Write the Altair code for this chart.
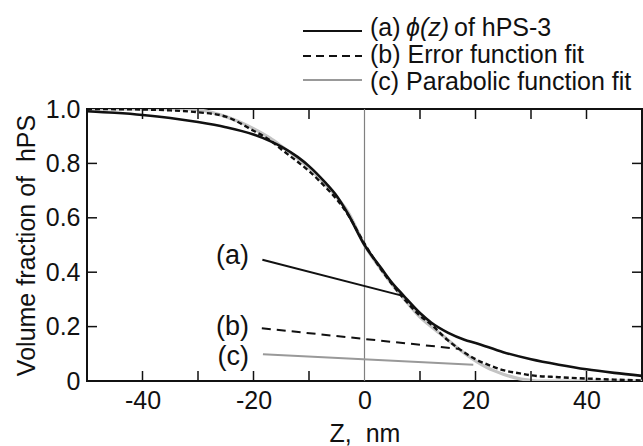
import altair as alt
import pandas as pd

# (a) measured volume-fraction profile phi(z) of hPS-3
z_a = [-50, -45, -40, -35, -30, -25, -20, -17, -15, -12, -10, -7, -5, -3, 0,
       3, 5, 7, 10, 12, 15, 18, 20, 25, 30, 35, 40, 45, 50]
phi_a = [0.992, 0.986, 0.978, 0.967, 0.952, 0.933, 0.906, 0.882, 0.862, 0.823,
         0.790, 0.728, 0.680, 0.615, 0.500, 0.415, 0.360, 0.315, 0.250, 0.215,
         0.178, 0.152, 0.140, 0.106, 0.080, 0.060, 0.043, 0.030, 0.019]

# (b) error function fit
z_b = [-50, -40, -35, -30, -25, -20, -17, -15, -12, -10, -7, -5, -3, 0, 3, 5,
       7, 10, 12, 15, 18, 20, 22, 25, 28, 30, 35, 40, 45, 50]
phi_b = [1.0, 0.998, 0.995, 0.988, 0.972, 0.920, 0.885, 0.852, 0.805, 0.772,
         0.712, 0.668, 0.612, 0.505, 0.410, 0.355, 0.305, 0.240, 0.208, 0.150,
         0.105, 0.080, 0.062, 0.040, 0.028, 0.021, 0.014, 0.009, 0.005, 0.002]

# (c) parabolic function fit
z_c = [-50, -40, -32, -30, -28, -25, -22, -20, -17, -15, -12, -10, -7, -5, -3,
       0, 3, 5, 7, 10, 12, 15, 17, 20, 22, 25, 28, 30, 31, 40, 50]
phi_c = [1.0, 1.0, 1.0, 0.997, 0.99, 0.972, 0.948, 0.928, 0.893, 0.864, 0.818,
         0.783, 0.722, 0.676, 0.622, 0.500, 0.410, 0.355, 0.305, 0.235, 0.200,
         0.152, 0.118, 0.074, 0.050, 0.025, 0.008, 0.002, 0.0, 0.0, 0.0]

# axis ticks
x_labelled = [-40, -20, 0, 20, 40]
x_minor = [-40, -30, -20, -10, 10, 20, 30, 40]
y_labelled = [0, 0.2, 0.4, 0.6, 0.8, 1.0]
y_minor = [0.2, 0.4, 0.6, 0.8]

# call-out letters and their leader lines
letters = ["(a)", "(b)", "(c)"]
letter_z = [-20.8, -20.8, -20.8]
letter_phi = [0.458, 0.200, 0.088]
lead_z0 = [-18.4, -18.5, -18.3]
lead_phi0 = [0.446, 0.194, 0.098]
lead_z1 = [6.9, 17.1, 19.6]
lead_phi1 = [0.313, 0.118, 0.060]

legend_labels = ["(a)", "of hPS-3", "(b) Error function fit", "(c) Parabolic function fit"]

W, H = 555, 272
FONT = "Liberation Sans"
FS = 25
INK = "#111111"
GREY_CURVE = "#c4c4c4"
GREY_LINE = "#999999"

xs = alt.Scale(domain=[-50, 50], nice=False, zero=False)
ys = alt.Scale(domain=[0, 1], nice=False, zero=False)

xaxis = alt.Axis(values=x_labelled, ticks=False, domain=False, grid=False,
                 labelExpr="datum.value < 0 ? '-' + abs(datum.value) : '' + datum.value",
                 labelFont=FONT, labelFontSize=FS, labelColor=INK, labelPadding=7,
                 labelFlush=False,
                 title="Z,\u00a0 nm", titleFont=FONT, titleFontSize=FS, titleFontWeight="normal",
                 titleColor=INK, titleX=W / 2, titleY=52, titleAlign="center",
                 titleBaseline="middle")
yaxis = alt.Axis(values=y_labelled, ticks=False, domain=False, grid=False,
                 labelExpr="datum.value == 0 ? '0' : format(datum.value, '.1f')",
                 labelFont=FONT, labelFontSize=FS, labelColor=INK, labelPadding=7,
                 labelFlush=False,
                 title="Volume fraction of\u00a0 hPS", titleFont=FONT, titleFontSize=FS,
                 titleFontWeight="normal", titleColor=INK, titleX=-61, titleY=H / 2,
                 titleAngle=270, titleAlign="center", titleBaseline="middle")

X = alt.X("z:Q", scale=xs, axis=xaxis)
Y = alt.Y("phi:Q", scale=ys, axis=yaxis)


def curve(zs, ps, color, width, dash=None):
    kw = dict(color=color, strokeWidth=width, clip=True, interpolate="monotone")
    if dash:
        kw["strokeDash"] = dash
    return alt.Chart(pd.DataFrame({"z": zs, "phi": ps})).mark_line(**kw).encode(x=X, y=Y)


parabolic = curve(z_c, phi_c, GREY_CURVE, 3.2)
profile = curve(z_a, phi_a, INK, 2.6)
erf_fit = curve(z_b, phi_b, INK, 2.4, [5, 3])

# zero line
zero_line = alt.Chart(pd.DataFrame({"z": [0]})).mark_rule(color="#808080", strokeWidth=1.2).encode(
    x=X, y=alt.value(0), y2=alt.value(H))

# inward ticks on all four sides
bx = pd.DataFrame({"z": x_minor})
ticks_bottom = alt.Chart(bx).mark_rule(color=INK, strokeWidth=1.5).encode(
    x=X, y=alt.value(H), y2=alt.value(H - 10))
ticks_top = alt.Chart(bx).mark_rule(color=INK, strokeWidth=1.5).encode(
    x=X, y=alt.value(0), y2=alt.value(10))
ly = pd.DataFrame({"phi": y_minor})
ticks_left = alt.Chart(ly).mark_rule(color=INK, strokeWidth=1.5).encode(
    y=Y, x=alt.value(0), x2=alt.value(10))
ticks_right = alt.Chart(ly).mark_rule(color=INK, strokeWidth=1.5).encode(
    y=Y, x=alt.value(W - 10), x2=alt.value(W))

# call-outs
lead = pd.DataFrame({"z": lead_z0, "phi": lead_phi0, "z2": lead_z1, "phi2": lead_phi1,
                     "k": letters})
lead_a = alt.Chart(lead[lead.k == "(a)"]).mark_rule(color=INK, strokeWidth=2).encode(
    x=X, y=Y, x2="z2:Q", y2="phi2:Q")
lead_b = alt.Chart(lead[lead.k == "(b)"]).mark_rule(color=INK, strokeWidth=2,
                                                   strokeDash=[9, 6]).encode(
    x=X, y=Y, x2="z2:Q", y2="phi2:Q")
lead_c = alt.Chart(lead[lead.k == "(c)"]).mark_rule(color=GREY_LINE, strokeWidth=2).encode(
    x=X, y=Y, x2="z2:Q", y2="phi2:Q")
letter_text = alt.Chart(pd.DataFrame({"z": letter_z, "phi": letter_phi, "t": letters})).mark_text(
    font=FONT, fontSize=27, color=INK, align="right", baseline="middle").encode(
    x=X, y=Y, text="t:N")

# legend above the plot
LX0, LX1, TX = 216, 275, 283
rows_y = [-81, -54, -27]


def leg_line(yv, color, dash=None, width=2):
    kw = dict(color=color, strokeWidth=width)
    if dash:
        kw["strokeDash"] = dash
    return alt.Chart(pd.DataFrame({"k": [0]})).mark_rule(**kw).encode(
        x=alt.value(LX0), x2=alt.value(LX1), y=alt.value(yv))


def leg_text(txt, xv, yv, style="normal"):
    return alt.Chart(pd.DataFrame({"t": [txt]})).mark_text(
        font=FONT, fontSize=FS, color=INK, align="left", baseline="middle",
        fontStyle=style).encode(x=alt.value(xv), y=alt.value(yv), text="t:N")


legend = [
    leg_line(rows_y[0] + 3, INK, width=2.2),
    leg_line(rows_y[1] + 1, INK, [8, 5], width=2.2),
    leg_line(rows_y[2] - 2, GREY_LINE, width=2),
    leg_text(legend_labels[0], TX, rows_y[0]),
    leg_text("\u03d5(z)", TX + 36, rows_y[0], "italic"),
    leg_text(legend_labels[1], TX + 84, rows_y[0]),
    leg_text(legend_labels[2], TX, rows_y[1]),
    leg_text(legend_labels[3], TX, rows_y[2]),
]

chart = alt.layer(
    zero_line, parabolic, profile, erf_fit,
    ticks_bottom, ticks_top, ticks_left, ticks_right,
    lead_a, lead_b, lead_c, letter_text, *legend,
).properties(
    width=W, height=H,
    autosize=alt.AutoSizeParams(type="none"),
    padding={"left": 87, "top": 109, "right": 1, "bottom": 65},
    background="white",
).configure_view(stroke=INK, strokeWidth=2)

chart.save("out.html", embed_options={"renderer": "svg", "actions": False})
